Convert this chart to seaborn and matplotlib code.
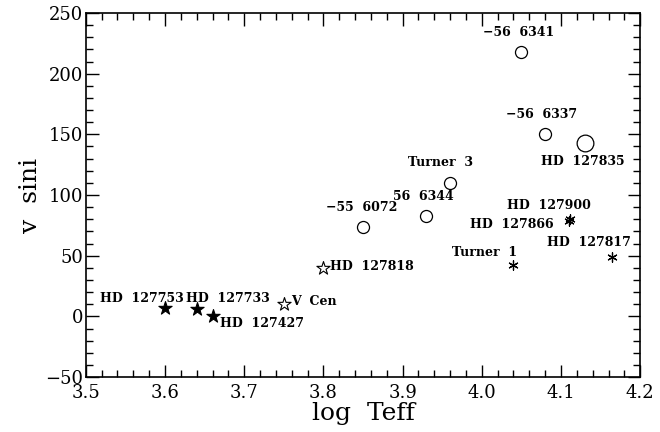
import matplotlib
matplotlib.use("Agg")
import matplotlib.pyplot as plt
import seaborn as sns
import pandas as pd
from matplotlib.ticker import MultipleLocator

# star data: log Teff, v sini, marker group
names = ["HD 127753", "HD 127733", "HD 127427", "V Cen", "HD 127818",
         "-55 6072", "56 6344", "Turner 3", "-56 6341", "-56 6337",
         "HD 127835", "HD 127900", "HD 127866", "Turner 1", "HD 127817"]
logteff = [3.60, 3.64, 3.66, 3.75, 3.80,
           3.85, 3.93, 3.96, 4.05, 4.08,
           4.13, 4.111, 4.110, 4.04, 4.165]
vsini = [7, 6, 0, 10, 40,
         74, 83, 110, 218, 150,
         143, 80.5, 79, 42, 49]
group = ["fstar", "fstar", "fstar", "ostar", "ostar",
         "circ", "circ", "circ", "circ", "circ",
         "bigcirc", "ast", "ast", "ast", "ast"]

# label text and anchor (left edge, vertical centre) in data units
label_text = ["HD  127753", "HD  127733", "HD  127427", "V  Cen", "HD  127818",
              "\u221255  6072", "56  6344", "Turner  3", "\u221256  6341", "\u221256  6337",
              "HD  127835", "HD  127900", "HD  127866", "Turner  1", "HD  127817"]
label_x = [3.518, 3.627, 3.669, 3.759, 3.808,
           3.803, 3.888, 3.907, 4.002, 4.031,
           4.075, 4.032, 3.985, 3.963, 4.082]
label_y = [15, 15, -6, 12, 41,
           90, 99, 127, 234, 166,
           128, 91, 76, 53, 61]

df = pd.DataFrame({"logT": logteff, "vsini": vsini, "group": group})

sns.set_theme(style="white")
plt.rcParams["font.family"] = ["DejaVu Serif"]
plt.rcParams["mathtext.fontset"] = "dejavuserif"
plt.rcParams["text.color"] = "black"
plt.rcParams["axes.labelcolor"] = "black"
plt.rcParams["xtick.color"] = "black"
plt.rcParams["ytick.color"] = "black"

fig = plt.figure(figsize=(6.6, 4.32), dpi=100)
ax = fig.add_axes([0.130, 0.127, 0.840, 0.843])

styles = {
    "fstar": dict(marker="*", s=100, color="black", edgecolor="black", linewidth=0.8),
    "ostar": dict(marker="*", s=100, color="white", edgecolor="black", linewidth=0.8),
    "circ": dict(marker="o", s=75, color="white", edgecolor="black", linewidth=0.9),
    "bigcirc": dict(marker="o", s=145, color="white", edgecolor="black", linewidth=0.9),
    "ast": dict(marker=(6, 2, 0), s=45, color="black", edgecolor="black", linewidth=0.9),
}
for g, kw in styles.items():
    sub = df[df["group"] == g]
    sns.scatterplot(data=sub, x="logT", y="vsini", ax=ax, legend=False, zorder=3, **kw)

for t, x, y in zip(label_text, label_x, label_y):
    ax.text(x, y, t, fontsize=9, fontweight="bold", ha="left", va="center",
            family="DejaVu Serif", color="black")

ax.set_xlim(3.5, 4.2)
ax.set_ylim(-50, 250)
ax.xaxis.set_minor_locator(MultipleLocator(0.02))
ax.yaxis.set_minor_locator(MultipleLocator(10))
ax.set_xticks([3.5, 3.6, 3.7, 3.8, 3.9, 4.0, 4.1, 4.2])
ax.set_xticklabels(["3.5", "3.6", "3.7", "3.8", "3.9", "4.0", "4.1", "4.2"])
ax.set_yticks([-50, 0, 50, 100, 150, 200, 250])
ax.set_yticklabels(["\u221250", "0", "50", "100", "150", "200", "250"])
ax.tick_params(which="both", direction="in", top=True, right=True, bottom=True, left=True,
               color="black", width=1, labelsize=13)
ax.tick_params(axis="x", pad=5)
ax.tick_params(axis="y", pad=2)
ax.tick_params(which="major", length=9)
ax.tick_params(which="minor", length=5)
for sp in ax.spines.values():
    sp.set_color("black")
    sp.set_linewidth(1.2)

ax.set_xlabel("log  Teff", fontsize=18, labelpad=0)
ax.set_ylabel("v  sini", fontsize=18, labelpad=2)

fig.savefig("out.png", dpi=100, facecolor="white")
